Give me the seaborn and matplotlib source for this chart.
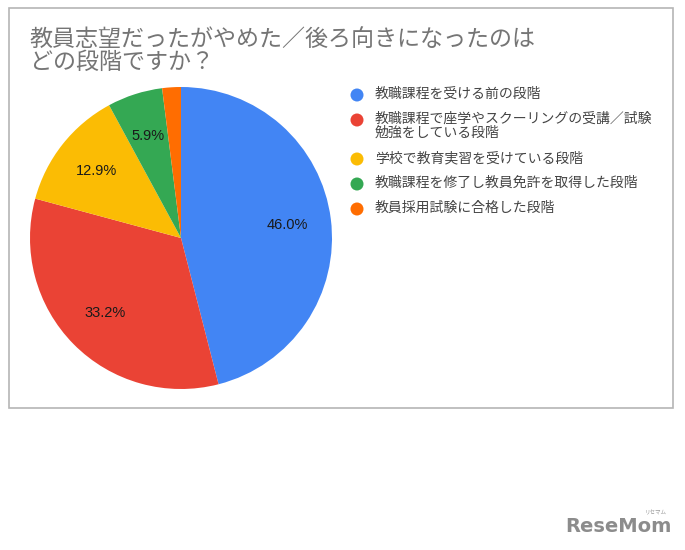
"""Pie chart: at which stage did teacher aspirants give up."""
import matplotlib.pyplot as plt
from matplotlib.patches import Rectangle, Ellipse
import seaborn as sns

TITLE = "教員志望だったがやめた／後ろ向きになったのは\nどの段階ですか？"
STAGES = [
    "教職課程を受ける前の段階",
    "教職課程で座学やスクーリングの受講／試験\n勉強をしている段階",
    "学校で教育実習を受けている段階",
    "教職課程を修了し教員免許を取得した段階",
    "教員採用試験に合格した段階",
]
SHARES = [46.0, 33.2, 12.9, 5.9, 2.0]
COLORS = ["#4285F4", "#EA4335", "#FBBC04", "#34A853", "#FF6D01"]

W, H = 685, 550


def px(x, y):
    """pixel coords (from top-left) -> figure fraction"""
    return x / W, 1 - y / H


def main() -> None:
    sns.set_theme(style="white")
    plt.rcParams["font.family"] = ["Noto Sans CJK JP", "DejaVu Sans"]
    palette = sns.color_palette(COLORS)

    fig = plt.figure(figsize=(W / 100, H / 100), dpi=100)
    fig.patch.set_facecolor("white")

    # chart frame
    fig.patches.append(Rectangle(px(9, 408), (673 - 9) / W, (408 - 8) / H,
                                 transform=fig.transFigure, fill=False,
                                 edgecolor="#b5b5b5", linewidth=1.2))

    fig.text(*px(30, 28), TITLE, ha="left", va="top", fontsize=16.6,
             color="#757575", linespacing=0.98)

    cx, cy, r = 181, 238, 151
    ax = fig.add_axes([(cx - r) / W, (H - cy - r) / H, 2 * r / W, 2 * r / H])
    ax.pie(SHARES, colors=palette, startangle=90, counterclock=False,
           radius=1, autopct=lambda p: f"{p:.1f}%" if p > 3 else "",
           pctdistance=0.71, wedgeprops=dict(linewidth=0),
           textprops=dict(fontsize=10.5, color="#1a1a1a",
                          family="Liberation Sans"))
    ax.set_xlim(-1, 1)
    ax.set_ylim(-1, 1)
    ax.set_aspect("equal")
    ax.axis("off")

    # legend
    rows = [95, 120, 159, 184, 209]
    for y, label, col in zip(rows, STAGES, palette):
        fig.patches.append(Ellipse(px(357, y), 13 / W, 13 / H,
                                   transform=fig.transFigure,
                                   facecolor=col, edgecolor="none"))
        fig.text(*px(375, y - 8), label, ha="left", va="top", fontsize=10,
                 color="#444444", linespacing=0.98)

    # logo
    fig.text(*px(672, 527), "ReseMom", ha="right", va="center", fontsize=14,
             fontweight="bold", color="#8c8c8c", family="DejaVu Sans")
    fig.text(*px(656, 513), "リセマム", ha="center", va="center", fontsize=4,
             color="#999999")

    fig.savefig("out.png", dpi=100)
    plt.close(fig)


if __name__ == "__main__":
    main()
